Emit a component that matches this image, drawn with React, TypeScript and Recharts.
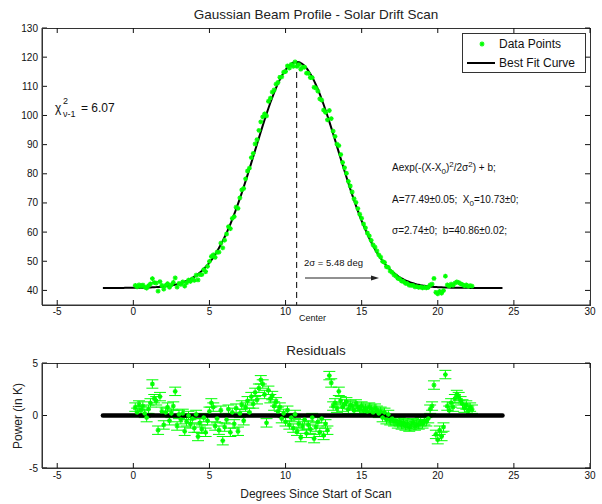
import React from 'react';
import { ComposedChart, Scatter, Line, XAxis, YAxis, ErrorBar, ReferenceLine, Legend } from 'recharts';

// axis ticks
const X_DOMAIN = [-6, 30];
const X_TICKS = [-5, 0, 5, 10, 15, 20, 25, 30];
const PROFILE_DOMAIN = [35, 130];
const PROFILE_TICKS = [40, 50, 60, 70, 80, 90, 100, 110, 120, 130];
const RESID_DOMAIN = [-5, 5];
const RESID_TICKS = [-5, 0, 5];

// best fit curve, sampled every 0.125 deg starting at -2 (one row per degree)
const FIT_START = -2;
const FIT_STEP = 0.125;
const FIT_VALUES = [
  40.86, 40.86, 40.86, 40.86, 40.86, 40.86, 40.86, 40.86,
  40.87, 40.87, 40.87, 40.87, 40.88, 40.88, 40.89, 40.89,
  40.9, 40.9, 40.91, 40.92, 40.93, 40.95, 40.96, 40.98,
  41.0, 41.03, 41.06, 41.09, 41.13, 41.17, 41.22, 41.28,
  41.34, 41.42, 41.51, 41.6, 41.71, 41.84, 41.98, 42.13,
  42.31, 42.51, 42.73, 42.97, 43.24, 43.55, 43.88, 44.25,
  44.65, 45.1, 45.59, 46.12, 46.7, 47.34, 48.02, 48.76,
  49.56, 50.42, 51.35, 52.34, 53.39, 54.52, 55.72, 56.99,
  58.33, 59.74, 61.22, 62.77, 64.39, 66.09, 67.84, 69.66,
  71.54, 73.47, 75.45, 77.47, 79.54, 81.64, 83.75, 85.89,
  88.03, 90.17, 92.31, 94.42, 96.51, 98.55, 100.54, 102.48,
  104.35, 106.13, 107.83, 109.43, 110.92, 112.3, 113.55, 114.67,
  115.65, 116.48, 117.17, 117.7, 118.08, 118.29, 118.35, 118.24,
  117.97, 117.55, 116.97, 116.23, 115.35, 114.32, 113.17, 111.87,
  110.46, 108.93, 107.3, 105.57, 103.76, 101.87, 99.91, 97.9,
  95.84, 93.75, 91.62, 89.49, 87.35, 85.2, 83.08, 80.96,
  78.88, 76.82, 74.81, 72.85, 70.93, 69.07, 67.27, 65.53,
  63.87, 62.27, 60.74, 59.28, 57.89, 56.58, 55.33, 54.15,
  53.05, 52.01, 51.04, 50.14, 49.3, 48.52, 47.8, 47.13,
  46.51, 45.95, 45.43, 44.96, 44.52, 44.13, 43.77, 43.45,
  43.15, 42.89, 42.65, 42.44, 42.25, 42.08, 41.93, 41.79,
  41.67, 41.57, 41.48, 41.39, 41.32, 41.26, 41.2, 41.16,
  41.11, 41.08, 41.05, 41.02, 40.99, 40.97, 40.96, 40.94,
  40.93, 40.92, 40.91, 40.9, 40.89, 40.89, 40.88, 40.88,
  40.88, 40.87, 40.87, 40.87, 40.87, 40.86, 40.86, 40.86,
  40.86, 40.86, 40.86, 40.86, 40.86, 40.86, 40.86, 40.86,
  40.86, 40.86, 40.86,
];

// residuals (K), every 0.125 deg starting at 0.125
const RESID_START = 0.125;
const RESID_STEP = 0.125;
const RESID_VALUES = [
  0.8, 0.3, 1.0, 0.5, 0.9, 0.2, -0.2, 0.6,
  1.2, 3.0, 1.6, 1.4, -1.4, 1.8, 0.4, -0.9,
  0.3, 0.8, -0.5, 0.2, 0.9, 2.3, -1.0, 0.1,
  -0.4, 0.2, -1.5, -0.6, 0.0, -0.8, -0.3, -1.2,
  0.1, -2.0, -0.7, -1.3, -0.2, -1.6, -0.5, 0.4,
  1.2, 0.8, -1.0, -0.3, -1.4, 0.5, -2.4, -1.1,
  -0.4, 0.6, -1.6, 0.3, -0.8, 0.7, -1.5, 0.2,
  1.0, -0.5, 0.8, 1.4, 0.3, 1.8, 1.1, 2.2,
  1.5, 2.6, 3.4, 3.0, 2.0, -0.7, 2.4, 1.6,
  1.9, 0.9, 1.3, 0.4, 0.8, -0.3, 0.2, -0.6,
  0.5, -0.9, -0.2, -1.2, 0.1, -1.5, -0.8, -2.1,
  -1.0, -0.4, -1.7, -0.9, -1.3, -0.2, -2.2, -1.1,
  -0.6, -1.6, -0.3, -1.9, -0.8, -1.4, 3.8, 3.1,
  0.9, 1.2, 0.7, 2.3, 1.4, 0.8, 1.1, 1.3,
  0.6, 1.0, 0.9, 0.5, 1.1, 0.8, 0.6, 0.9,
  0.5, 0.7, 0.4, 0.8, 0.6, 0.3, 0.7, 0.5,
  0.2, 0.4, -0.2, 0.3, -0.4, 0.1, -0.5, -0.3,
  -0.6, -0.5, -0.8, -0.6, -0.9, -0.7, -1.0, -0.8,
  -1.1, -0.9, -0.7, -1.0, -0.8, -0.9, -0.6, -0.8,
  -0.5, -0.6, -0.3, 0.6, 0.9, 2.9, -1.8, -2.3,
  -1.4, -2.0, -1.1, 3.9, 0.9, 0.5, 1.2, 0.8,
  1.6, 2.0, 1.8, 1.4, 1.1, 0.7, 1.0, 0.5,
  0.8, 0.6,
];
const RESID_ERROR = 0.4;

const CENTER = 10.73;
const PEAK = 118.35;

const GREEN = '#00ff00';
const AXIS = '#333';
const TICK = '#111';

// layout (px)
const CHART_W = 602;
const AXIS_W = 42;
const RIGHT = 12;
const PLOT_L = AXIS_W;
const PLOT_R = CHART_W - RIGHT;
const TICK_PX = 5;

const TOP_CHART = { top: 0, height: 320, margin: 28, xHeight: 15 };
const BOT_CHART = { top: 340, height: 146, margin: 23, xHeight: 18 };

const fitData = FIT_VALUES.map((y, i) => ({ x: FIT_START + i * FIT_STEP, y }));
const residData = RESID_VALUES.map((y, i) => ({ x: RESID_START + i * RESID_STEP, y, err: RESID_ERROR }));
// measured points = fit + residual
const profileData = residData.map((p) => ({
  x: p.x,
  y: FIT_VALUES[Math.round((p.x - FIT_START) / FIT_STEP)] + p.y,
}));
const zeroData = fitData.map((p) => ({ x: p.x, y: 0 }));

const Star = (props: any) => {
  const { cx, cy } = props;
  if (cx == null || cy == null) return <g />;
  const r = 2.4;
  const d = r * 0.7;
  return (
    <g stroke={GREEN} strokeWidth={1.4}>
      <line x1={cx - r} x2={cx + r} y1={cy} y2={cy} />
      <line x1={cx} x2={cx} y1={cy - r} y2={cy + r} />
      <line x1={cx - d} x2={cx + d} y1={cy - d} y2={cy + d} />
      <line x1={cx - d} x2={cx + d} y1={cy + d} y2={cy - d} />
    </g>
  );
};

const tickFont = { fontSize: 10, fill: '#111' };

const plotBox = (chart: any) => {
  const top = chart.top + chart.margin;
  const bottom = chart.top + chart.height - chart.xHeight;
  return { top, bottom };
};

// box outline as a plain bordered div (top/right edges of the axes)
const BoxBorder = ({ chart }: any) => {
  const { top, bottom } = plotBox(chart);
  return (
    <div style={{ position: 'absolute', left: PLOT_L, top, width: PLOT_R - PLOT_L + 1, height: bottom - top + 1,
      border: `1px solid ${AXIS}`, boxSizing: 'border-box', pointerEvents: 'none', zIndex: 4 }} />
  );
};

// inward ticks on the top and right edges (MATLAB style)
function boxTicks(chart: any, yDomain: number[], yTicks: number[], key: string) {
  const { top, bottom } = plotBox(chart);
  const px = (v: number) => PLOT_L + ((v - X_DOMAIN[0]) / (X_DOMAIN[1] - X_DOMAIN[0])) * (PLOT_R - PLOT_L);
  const py = (v: number) => top + ((yDomain[1] - v) / (yDomain[1] - yDomain[0])) * (bottom - top);
  return (
    <g key={key}>
      {X_TICKS.map((t) => (
        <path key={'t' + t} d={`M${px(t)},${top} L${px(t)},${top + TICK_PX}`} stroke={TICK} strokeWidth={1} />
      ))}
      {yTicks.map((t) => (
        <path key={'r' + t} d={`M${PLOT_R},${py(t)} L${PLOT_R - TICK_PX},${py(t)}`} stroke={TICK} strokeWidth={1} />
      ))}
    </g>
  );
}

const axes = (yDomain: number[], yTicks: number[], xHeight: number, xMargin: number) => [
  <XAxis key="xb" xAxisId="b" dataKey="x" type="number" domain={X_DOMAIN} ticks={X_TICKS} height={xHeight}
    stroke={AXIS} tickLine={{ stroke: TICK }} tickSize={-TICK_PX} tickMargin={xMargin} tick={tickFont} allowDataOverflow />,
  <YAxis key="yl" yAxisId="l" dataKey="y" type="number" domain={yDomain} ticks={yTicks} width={AXIS_W}
    stroke={AXIS} tickLine={{ stroke: TICK }} tickSize={-TICK_PX} tickMargin={9} tick={tickFont} allowDataOverflow />,
];

const LegendBox = () => (
  <div style={{ width: 124, height: 40, border: '1px solid #333', background: '#fff', boxSizing: 'border-box', position: 'relative' }}>
    <svg width={124} height={40} style={{ position: 'absolute', left: -1, top: -1 }}>
      <Star cx={20} cy={11} />
      <text x={37} y={15} fontSize={12} fill="#111">Data Points</text>
      <line x1={5} x2={33} y1={30} y2={30} stroke="#000" strokeWidth={2} />
      <text x={37} y={34} fontSize={12} fill="#111">Best Fit Curve</text>
    </svg>
  </div>
);

export default function App() {
  return (
    <div style={{ position: 'absolute', left: 0, top: 0, width: 602, height: 504, background: '#fff', fontFamily: '"Liberation Sans", Arial, sans-serif' }}>
      <div style={{ position: 'absolute', left: 0, top: TOP_CHART.top }}>
        <ComposedChart width={CHART_W} height={TOP_CHART.height} margin={{ top: TOP_CHART.margin, right: RIGHT, bottom: 0, left: 0 }}>
          {axes(PROFILE_DOMAIN, PROFILE_TICKS, TOP_CHART.xHeight, 8)}
          <Scatter xAxisId="b" yAxisId="l" data={profileData} dataKey="y" shape={Star} isAnimationActive={false} />
          <Line xAxisId="b" yAxisId="l" data={fitData} dataKey="y" type="monotone" stroke="#000" strokeWidth={2}
            dot={false} activeDot={false} isAnimationActive={false} />
          <ReferenceLine xAxisId="b" yAxisId="l" segment={[{ x: CENTER, y: PEAK }, { x: CENTER, y: PROFILE_DOMAIN[0] }]}
            stroke="#000" strokeDasharray="6 4" strokeWidth={1} />
          <Legend layout="vertical" align="center" verticalAlign="middle"
            wrapperStyle={{ left: 462, top: 33, width: 124, height: 40 }} content={() => <LegendBox />} />
        </ComposedChart>
      </div>
      <div style={{ position: 'absolute', left: 0, top: BOT_CHART.top }}>
        <ComposedChart width={CHART_W} height={BOT_CHART.height} margin={{ top: BOT_CHART.margin, right: RIGHT, bottom: 0, left: 0 }}>
          {axes(RESID_DOMAIN, RESID_TICKS, BOT_CHART.xHeight, 9)}
          <Scatter xAxisId="b" yAxisId="l" data={residData} dataKey="y" shape={Star} isAnimationActive={false}>
            <ErrorBar dataKey="err" direction="y" width={6} stroke={GREEN} strokeWidth={1} />
          </Scatter>
          <Line xAxisId="b" yAxisId="l" data={zeroData} dataKey="y" type="linear" stroke="#000" strokeWidth={4.5}
            strokeLinecap="round" dot={false} activeDot={false} isAnimationActive={false} />
        </ComposedChart>
      </div>
      <BoxBorder chart={TOP_CHART} />
      <BoxBorder chart={BOT_CHART} />
      <svg width={602} height={504} style={{ position: 'absolute', left: 0, top: 0, zIndex: 5, pointerEvents: 'none' }}>
        {boxTicks(TOP_CHART, PROFILE_DOMAIN, PROFILE_TICKS, 'ticks-top')}
        {boxTicks(BOT_CHART, RESID_DOMAIN, RESID_TICKS, 'ticks-bottom')}
        <text x={316} y={19} textAnchor="middle" fontSize={13.5} fill="#222">Gaussian Beam Profile - Solar Drift Scan</text>
        <text x={55} y={112} fontSize={12} fill="#111">χ</text>
        <text x={63} y={104} fontSize={9} fill="#111">2</text>
        <text x={63} y={117} fontSize={9} fill="#111">ν-1</text>
        <text x={81} y={112} fontSize={12} fill="#111">= 6.07</text>
        <text x={392} y={171} fontSize={10} fill="#111">
          Aexp(-(X-X<tspan dy={3} fontSize={8}>0</tspan><tspan dy={-3}>)</tspan><tspan dy={-4} fontSize={8}>2</tspan>
          <tspan dy={4}>/2σ</tspan><tspan dy={-4} fontSize={8}>2</tspan><tspan dy={4}>) + b;</tspan>
        </text>
        <text x={392} y={203} fontSize={10} fill="#111" style={{ whiteSpace: 'pre' }}>
          A=77.49±0.05;  X<tspan dy={3} fontSize={8}>0</tspan><tspan dy={-3}>=10.73±0;</tspan>
        </text>
        <text x={392} y={234} fontSize={10} fill="#111" style={{ whiteSpace: 'pre' }}>σ=2.74±0;  b=40.86±0.02;</text>
        <text x={304} y={266} fontSize={9.5} fill="#111">2σ = 5.48 deg</text>
        <line x1={305} x2={373} y1={278} y2={278} stroke="#222" strokeWidth={1} />
        <polygon points="379,278 371,275.5 371,280.5" fill="#222" />
        <text x={299} y={321} fontSize={9} fill="#111">Center</text>
        <text x={316} y={355} textAnchor="middle" fontSize={13.5} fill="#222">Residuals</text>
        <text x={316} y={498} textAnchor="middle" fontSize={12} fill="#222">Degrees Since Start of Scan</text>
        <text x={22} y={416} textAnchor="middle" fontSize={12} fill="#222" transform="rotate(-90 22 416)">Power (in K)</text>
      </svg>
    </div>
  );
}
